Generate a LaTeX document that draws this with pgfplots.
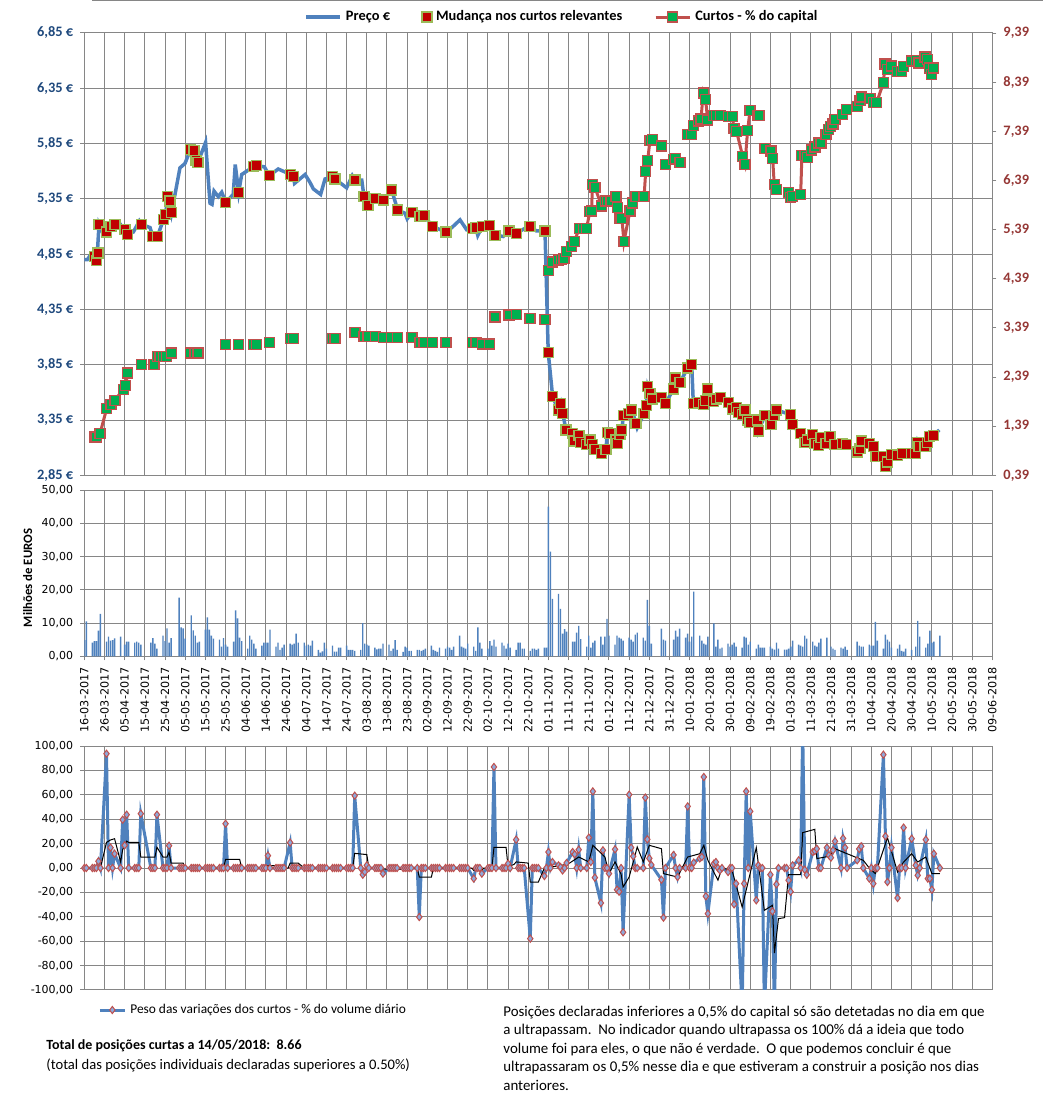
\documentclass[border=0pt]{standalone}
\usepackage{pgfplots}
\pgfplotsset{compat=1.18}
\usepackage{fontspec}
\setmainfont{Carlito}
\newfontfamily\verd{DejaVu Sans}

\definecolor{preco}{HTML}{4F81BD}
\definecolor{leftc}{HTML}{1F497D}
\definecolor{rightc}{HTML}{953735}
\definecolor{redm}{HTML}{C00000}
\definecolor{redb}{HTML}{9BBB59}
\definecolor{greenm}{HTML}{00B050}
\definecolor{curtos}{HTML}{C0504D}
\definecolor{gridc}{HTML}{868686}
\definecolor{diamf}{HTML}{8EA9DB}

\newcommand\toplab{\fontsize{7.2}{8}\selectfont\bfseries}
\newcommand\smalllab{\verd\fontsize{5.5}{6}\selectfont}

\pgfplotsset{
  base/.style={
    scale only axis, anchor=south west, width=454.05pt,
    xmin=0, xmax=450, xtick={0,10,...,450},
    xmajorgrids, ymajorgrids,
    grid style={gridc, line width=0.5pt},
    axis line style={gridc, line width=0.5pt},
    tick align=outside, major tick length=2pt,
    tick style={gridc, line width=0.5pt},
  },
}

\begin{document}
\begin{tikzpicture}
\path[use as bounding box] (0,0) rectangle (521.5pt,550pt);
\draw[gridc, line width=0.5pt] (46pt,549.6pt) -- (521.5pt,549.6pt);

% ---------- top panel: price (left axis) ----------
\begin{axis}[base, at={(42.15pt,312.35pt)}, height=221.15pt,
  ymin=2.85, ymax=6.85,
  ytick={2.85,3.35,3.85,4.35,4.85,5.35,5.85,6.35,6.85},
  yticklabels={{2,85 €},{3,35 €},{3,85 €},{4,35 €},{4,85 €},{5,35 €},{5,85 €},{6,35 €},{6,85 €}},
  yticklabel style={font=\toplab, text=leftc},
  xticklabels={}, xtick style={draw=none}, ytick pos=left]
\addplot[preco, line width=1.75pt] coordinates {
(0,4.80)(1.5,4.80)(3,4.84)(4.5,4.83)(5.5,4.80)(6.5,4.87)(7.3,5.12)(9,5.05)(11.1,5.05)(13.2,5.10)
(15.2,5.12)(17.4,5.13)(20.2,5.07)(21.5,5.03)(24.3,5.05)(27.3,5.15)(28.4,5.12)(32.6,5.09)(33.9,5.01)
(36.2,5.01)(39.2,5.16)(40.3,5.21)(41.3,5.37)(42.5,5.33)(43.3,5.23)(47.4,5.63)(49.9,5.67)(52.7,5.80)
(54.4,5.79)(55.4,5.70)(56.3,5.68)(60.1,5.86)(62.3,5.31)(63.3,5.30)(64.3,5.42)(66.4,5.37)(68.1,5.41)
(70.1,5.32)(73.8,5.39)(74.8,5.66)(76.5,5.41)(78,5.57)(81.3,5.61)(83.8,5.64)(85.4,5.65)(89.2,5.64)
(91.7,5.56)(96.1,5.62)(102.3,5.57)(103.6,5.55)(104.2,5.49)(109.4,5.57)(111.8,5.50)(113.5,5.44)
(117.1,5.39)(119.3,5.53)(123.1,5.55)(124.2,5.53)(130,5.45)(132.8,5.56)(134.1,5.52)(137.5,5.52)
(138.6,5.37)(140.6,5.29)(142.4,5.32)(144.5,5.35)(148.2,5.34)(152.3,5.43)(155.3,5.25)(158.9,5.22)
(160,5.17)(162.4,5.23)(166.4,5.19)(168.3,5.20)(172.6,5.10)(179.2,5.05)(182.1,5.09)(186.2,5.16)
(189.5,5.07)(192.5,5.08)(194.1,5.09)(195,5.02)(197.2,5.10)(200.7,5.11)(203.5,5.02)(207.6,5.01)
(210.5,5.06)(214.3,5.04)(218,5.08)(220.9,5.10)(224,5.06)(228.3,5.06)(229.9,3.96)(232.1,3.56)
(234.9,3.44)(236.1,3.50)(237.1,3.41)(238.7,3.26)(242,3.23)(242.7,3.16)(245.1,3.21)(246,3.15)
(249,3.13)(250.6,3.17)(251.9,3.13)(253.1,3.08)(256.4,3.05)(258.5,3.08)(259.2,3.24)(260.5,3.23)
(263.5,3.17)(264.1,3.14)(265.5,3.22)(266.4,3.26)(267.1,3.39)(269.6,3.41)(271.3,3.44)(273.4,3.32)
(274,3.28)(277.4,3.41)(278.4,3.48)(279.2,3.65)(280.3,3.59)(281.5,3.54)(286.1,3.55)(288.1,3.50)
(291.9,3.63)(293.1,3.73)(295.2,3.69)(299,3.82)(301,3.85)(301.8,3.50)(304.3,3.51)(306.7,3.49)
(307.9,3.53)(308.9,3.63)(310.1,3.58)(311.7,3.52)(313.4,3.54)(315.4,3.55)(317,3.56)(319.1,3.51)
(321.3,3.45)(323.3,3.46)(324.1,3.42)(326.3,3.40)(327.4,3.44)(328.7,3.35)(329.9,3.33)(333.5,3.35)
(334,3.25)(337.3,3.39)(340.3,3.31)(341.8,3.39)(343.1,3.44)(348.1,3.41)(350,3.40)(351,3.31)
(353,3.26)(355,3.23)(357.1,3.15)(358.3,3.17)(360.9,3.22)(362.1,3.14)(363.7,3.12)(365.1,3.19)
(367.5,3.14)(369.5,3.20)(372,3.13)(375.8,3.14)(377.8,3.13)(381.1,3.08)(383.2,3.06)(384.4,3.09)
(385.3,3.16)(389.3,3.14)(391,3.11)(392.3,3.02)(396,3.02)(397.1,2.93)(398.1,2.97)(400.1,3.04)
(402.9,3.03)(405.5,3.05)(410,3.05)(411.7,3.05)(412.8,3.15)(413.6,3.11)(416.6,3.11)(417.7,3.15)
(418.7,3.20)(420.7,3.21)(423.7,3.26)
};
\addplot[only marks, mark=square*, mark size=2.5pt, mark options={fill=redm, draw=redb, line width=0.6pt}] coordinates {
(5,4.83)(6,4.79)(6.8,4.86)(7.3,5.12)(11.1,5.05)(13.2,5.10)(15.2,5.12)(20.2,5.07)(21.5,5.03)(28.4,5.12)
(33.9,5.01)(36.2,5.01)(39.2,5.16)(40.3,5.21)(41.3,5.37)(42.5,5.33)(43.3,5.23)(52.7,5.80)(54.4,5.79)
(55.4,5.70)(56.3,5.68)(70.1,5.32)(76.5,5.41)(83.8,5.64)(85.4,5.65)(91.7,5.56)(102.3,5.57)(103.6,5.55)
(123.1,5.55)(124.2,5.53)(134.1,5.52)(138.6,5.37)(140.6,5.29)(144.5,5.35)(148.2,5.34)(152.3,5.43)
(155.3,5.25)(162.4,5.23)(166.4,5.19)(168.3,5.20)(172.6,5.10)(179.2,5.05)(192.5,5.08)(194.1,5.09)
(197.2,5.10)(200.7,5.11)(203.5,5.02)(210.5,5.06)(214.3,5.04)(220.9,5.10)(228.3,5.06)(229.9,3.96)
(232.1,3.56)(234.9,3.44)(236.1,3.50)(237.1,3.41)(238.7,3.26)(242,3.23)(242.7,3.16)(245.1,3.21)
(246,3.15)(249,3.13)(250.6,3.17)(251.9,3.13)(253.1,3.08)(256.4,3.05)(258.5,3.08)(259.2,3.24)
(260.5,3.23)(263.5,3.17)(264.1,3.14)(265.5,3.22)(266.4,3.26)(267.1,3.39)(269.6,3.41)(271.3,3.44)
(273.4,3.32)(277.4,3.41)(278.4,3.48)(279.2,3.65)(280.3,3.59)(281.5,3.54)(286.1,3.55)(288.1,3.50)
(291.9,3.63)(293.1,3.73)(295.2,3.69)(299,3.82)(301,3.85)(301.8,3.50)(304.3,3.51)(306.7,3.49)
(307.9,3.53)(308.9,3.63)(311.7,3.52)(313.4,3.54)(315.4,3.55)(319.1,3.51)(321.3,3.45)(323.3,3.46)
(324.1,3.42)(326.3,3.40)(327.4,3.44)(328.7,3.35)(329.9,3.33)(333.5,3.35)(334,3.25)(337.3,3.39)
(340.3,3.31)(341.8,3.39)(343.1,3.44)(350,3.40)(351,3.31)(355,3.23)(357.1,3.15)(358.3,3.17)
(360.9,3.22)(362.1,3.14)(363.7,3.12)(365.1,3.19)(367.5,3.14)(369.5,3.20)(372,3.13)(375.8,3.14)
(377.8,3.13)(383.2,3.06)(384.4,3.09)(385.3,3.16)(389.3,3.14)(391,3.11)(392.3,3.02)(396,3.02)
(397.1,2.93)(398.1,2.97)(400.1,3.04)(402.9,3.03)(405.5,3.05)(410,3.05)(411.7,3.05)(412.8,3.15)
(413.6,3.11)(416.6,3.11)(417.7,3.15)(418.7,3.20)(420.7,3.21)
};
\end{axis}

% ---------- top panel: short positions (right axis) ----------
\begin{axis}[base, at={(42.15pt,312.35pt)}, height=221.15pt,
  axis y line*=right, axis x line=none, xmajorgrids=false, ymajorgrids=false,
  ymin=0.39, ymax=9.39,
  ytick={0.39,1.39,2.39,3.39,4.39,5.39,6.39,7.39,8.39,9.39},
  yticklabels={{0,39},{1,39},{2,39},{3,39},{4,39},{5,39},{6,39},{7,39},{8,39},{9,39}},
  yticklabel style={font=\toplab, text=rightc},
  unbounded coords=jump,
  legend columns=3,
  legend style={at={(0.527,1.036)}, anchor=center, draw=none, fill=none, font=\toplab,
    /tikz/every even column/.append style={column sep=14pt}}]
\addlegendimage{preco, line width=1.75pt}
\addlegendentry{Preço €}
\addlegendimage{only marks, mark=square*, mark size=2.5pt, mark options={fill=redm, draw=redb, line width=0.6pt}}
\addlegendentry{Mudança nos curtos relevantes}
\addplot[curtos, line width=1.5pt, mark=square*, mark size=2.5pt, mark options={fill=greenm, draw=curtos, line width=0.6pt}] coordinates {
(5.3,1.17)(6.1,1.17)(7.8,1.24)(11.1,1.75)(13.2,1.83)(15.2,1.92)(19.3,2.14)(20.5,2.22)(21.5,2.47)
(25,nan)(28.4,2.65)(31,nan)(34.5,2.65)(35.5,nan)
(36.2,2.80)(37.5,2.80)(39.2,2.80)(40.8,2.80)(43.3,2.88)(48,nan)
(52.7,2.88)(54.9,2.88)(56.3,2.88)(60,nan)
(70.1,3.05)(72,nan)(76.5,3.05)(80,nan)(83.8,3.05)(85.4,3.05)(88,nan)(91.7,3.09)(95,nan)
(102.3,3.18)(103.6,3.18)(110,nan)(123.1,3.18)(124.2,3.18)(130,nan)(134.1,3.29)(136,nan)
(138.6,3.22)(140.6,3.22)(142,nan)(144.5,3.22)(146,nan)(148.2,3.20)(150,nan)(152.3,3.20)(154,nan)
(155.3,3.20)(158,nan)(162.4,3.20)(164,nan)(166.4,3.10)(168.3,3.10)(170,nan)(172.6,3.10)(175,nan)
(179.2,3.10)(185,nan)(192.5,3.09)(194.1,3.09)(196,nan)(197.2,3.06)(200.7,3.06)(202,nan)
(203.5,3.61)(207,nan)(210.5,3.65)(212,nan)(214.3,3.67)(217,nan)(220.9,3.58)(225,nan)(228.3,3.56)(229.2,nan)
(229.9,4.56)(231.9,4.73)(234.9,4.77)(236.6,4.78)(237.7,4.80)(239,4.94)(241.5,5.04)(242.8,5.14)
(245.3,5.42)(247.3,5.42)(248.9,5.42)(250.5,5.75)(251.4,5.77)(251.8,6.31)(253.1,6.24)(256.4,5.87)
(258.1,5.97)(259.4,5.97)(261,5.97)(263.5,6.06)(264.3,5.84)(265.5,5.62)(266.4,5.62)(267.4,5.14)
(270.4,5.77)(271.6,5.93)(273.4,6.06)(277.4,6.06)(278.2,6.57)(279.2,6.80)(280.3,7.21)(281.5,7.23)
(286.1,7.09)(287,nan)(288.1,6.72)(290,nan)(291.9,6.82)(293.1,6.84)(295.2,6.75)(297,nan)
(299,7.33)(301,7.33)(301.8,7.50)(304.3,7.60)(305.6,7.64)(306.7,8.17)(307.9,8.03)(308.9,7.62)
(311.7,7.71)(313.4,7.71)(315.4,7.71)(319.1,7.69)(321.1,7.69)(322,7.45)(323.3,7.38)(326.3,6.87)
(327.4,6.72)(328.7,7.41)(329.9,7.81)(333.5,7.71)(334.3,7.71)(336,nan)
(337.3,7.04)(340.3,6.99)(341.1,6.84)(341.9,6.31)(343.1,6.21)(346,nan)
(348.9,6.15)(350,6.05)(351,6.07)(355,6.10)(355.6,6.90)(357.1,6.90)(358.3,6.86)(360.4,7.01)
(362.1,7.07)(363.7,7.15)(365.1,7.15)(367.5,7.33)(368.7,7.42)(369.9,7.49)(371,7.54)(372,7.63)
(375.8,7.74)(377.8,7.84)(383,7.90)(384.4,8.01)(385.3,8.09)(389.3,8.05)(391,7.98)(392.6,7.97)
(396,8.38)(396.8,8.76)(398.2,8.64)(400.1,8.72)(402.9,8.61)(405,8.61)(405.9,8.71)(410,8.82)
(412.5,8.83)(413.6,8.78)(416.6,8.90)(417.7,8.85)(418.7,8.68)(419.9,8.55)(420.7,8.68)
};
\addlegendentry{Curtos - \% do capital}
\end{axis}

% ---------- middle panel: volume ----------
\begin{axis}[base, at={(42.15pt,221.85pt)}, height=83pt,
  ymin=0, ymax=50, ytick={0,10,20,30,40,50},
  yticklabels={{0,00},{10,00},{20,00},{30,00},{40,00},{50,00}},
  yticklabel style={font=\smalllab},
  ytick pos=left, xtick pos=bottom,
  xticklabels={16-03-2017,26-03-2017,05-04-2017,15-04-2017,25-04-2017,05-05-2017,15-05-2017,25-05-2017,
    04-06-2017,14-06-2017,24-06-2017,04-07-2017,14-07-2017,24-07-2017,03-08-2017,13-08-2017,23-08-2017,
    02-09-2017,12-09-2017,22-09-2017,02-10-2017,12-10-2017,22-10-2017,01-11-2017,11-11-2017,21-11-2017,
    01-12-2017,11-12-2017,21-12-2017,31-12-2017,10-01-2018,20-01-2018,30-01-2018,09-02-2018,19-02-2018,
    01-03-2018,11-03-2018,21-03-2018,31-03-2018,10-04-2018,20-04-2018,30-04-2018,10-05-2018,20-05-2018,
    30-05-2018,09-06-2018},
  xticklabel style={rotate=90, anchor=east, font=\verd\fontsize{5.6}{6}\selectfont}]
\addplot[ybar, bar width=0.7pt, fill=preco, draw=none] coordinates {
(0,4.9)(1,10.5)(4,4.1)(5,4.6)(6,4.6)(7,7.7)(8,12.8)(11,4.4)(12,5.9)(13,4.7)(14,4.9)(15,5.4)(18,5.9)
(20,3.5)(21,4.4)(22,4.4)(25,4.1)(26,4.4)(27,4.1)(28,3.5)(33,4.1)(34,5.5)(35,3.8)(36,2.3)(39,6.2)
(40,4.6)(41,8.4)(42,4.1)(43,5.5)(47,17.7)(48,8.7)(49,8.4)(50,5.3)(53,12.3)(54,7.8)(55,6.2)(56,4.1)
(57,4.4)(60,8.0)(61,11.7)(62,8.0)(63,6.2)(64,5.3)(67,5.0)(68,2.9)(69,5.5)(70,3.5)(71,2.9)(74,4.4)
(75,13.8)(76,11.4)(77,5.6)(78,4.6)(81,2.3)(82,6.2)(83,5.0)(84,3.8)(85,2.3)(88,3.2)(89,4.1)(90,4.1)
(91,4.1)(92,8.0)(95,2.9)(96,4.1)(97,1.9)(98,2.6)(99,3.5)(102,3.8)(103,3.5)(104,3.8)(105,6.8)(106,4.1)
(109,4.1)(110,3.2)(111,3.5)(112,3.2)(113,4.7)(116,1.9)(117,1.1)(118,1.5)(119,4.1)(120,2.3)(123,3.2)
(124,1.4)(125,1.4)(126,2.6)(127,2.6)(130,3.2)(131,1.9)(132,1.9)(133,1.9)(134,1.6)(137,1.9)(138,10.0)
(139,3.8)(140,3.5)(141,3.2)(144,2.6)(145,2.1)(146,2.3)(147,2.3)(148,3.8)(151,3.5)(152,1.6)(153,2.3)
(154,4.9)(155,1.9)(158,1.3)(159,2.9)(160,2.6)(161,1.6)(162,1.6)(165,1.9)(166,1.9)(167,1.6)(168,1.9)
(169,2.3)(172,3.2)(173,1.9)(174,1.6)(175,1.3)(176,2.6)(179,2.3)(180,2.9)(181,2.6)(182,1.9)(183,2.9)
(186,6.2)(187,2.9)(188,2.6)(189,2.3)(190,3.8)(193,2.9)(194,1.6)(195,8.7)(196,4.1)(197,2.3)(200,2.3)
(201,4.6)(202,3.2)(203,5.0)(204,2.9)(207,4.1)(208,3.2)(209,2.3)(210,3.8)(211,2.6)(214,1.9)(215,4.1)
(216,4.1)(217,2.3)(218,2.3)(221,1.6)(222,2.3)(223,2.3)(224,1.9)(225,2.3)(228,2.6)(229,2.6)(230,45.1)
(231,31.5)(232,17.3)(235,18.8)(236,14.3)(237,6.8)(238,8.2)(239,7.4)(242,4.4)(243,4.4)(244,7.1)
(245,9.2)(246,5.2)(249,2.9)(250,6.2)(251,2.6)(252,4.1)(253,4.7)(256,5.9)(257,3.5)(258,5.9)(259,11.3)
(260,6.2)(263,3.5)(264,6.2)(265,5.6)(266,5.3)(267,4.7)(270,5.6)(271,5.0)(272,4.4)(273,6.5)(274,7.1)
(277,5.6)(278,4.7)(279,17.0)(280,9.2)(281,3.8)(286,8.3)(287,5.0)(288,4.7)(292,5.0)(293,7.7)(294,5.9)
(295,8.3)(298,5.6)(299,6.8)(300,4.4)(301,5.9)(302,19.5)(305,6.2)(306,4.7)(307,3.8)(308,3.5)(309,5.9)
(312,9.9)(313,2.9)(314,5.0)(315,2.3)(316,2.6)(319,3.8)(320,2.9)(321,3.5)(322,4.1)(323,2.9)(326,2.6)
(327,5.9)(328,5.6)(329,3.5)(330,4.4)(333,2.3)(334,3.5)(335,2.6)(336,2.6)(337,2.6)(340,2.9)(341,2.3)
(342,2.0)(343,4.1)(344,2.3)(347,2.0)(348,2.0)(349,2.3)(350,2.9)(351,4.7)(354,3.5)(355,3.2)(356,2.9)
(357,6.2)(358,5.3)(361,4.4)(362,3.2)(363,2.9)(364,4.1)(365,5.3)(368,5.6)(370,2.9)(371,2.3)(372,1.9)
(375,2.6)(376,2.3)(377,2.9)(378,1.9)(383,4.4)(384,3.2)(385,2.9)(386,2.9)(389,3.5)(390,3.2)(391,3.2)
(392,10.4)(393,4.7)(396,2.3)(397,6.5)(398,5.0)(399,4.4)(400,2.6)(403,2.3)(404,3.5)(405,1.6)(406,1.4)
(407,2.3)(410,1.9)(412,2.9)(413,10.7)(414,5.9)(417,2.6)(418,3.8)(419,7.7)(420,4.1)(421,4.4)(424,6.2)
};
\end{axis}

% ---------- bottom panel: weight of short changes ----------
\begin{axis}[base, at={(42.15pt,55pt)}, height=122pt,
  ymin=-100, ymax=100, ytick={-100,-80,-60,-40,-20,0,20,40,60,80,100},
  yticklabels={{-100,00},{-80,00},{-60,00},{-40,00},{-20,00},{0,00},{20,00},{40,00},{60,00},{80,00},{100,00}},
  yticklabel style={font=\smalllab},
  ytick pos=left, xticklabels={}, xtick style={draw=none},
  legend style={at={(0.187,-0.082)}, anchor=center, draw=none, fill=none,
    font=\fontsize{6.7}{7}\selectfont},
  legend image code/.code={\draw[mark repeat=2,mark phase=2] plot coordinates {(0cm,0cm) (0.22cm,0cm) (0.44cm,0cm)};}]
\addplot[preco, line width=1.5pt, mark=diamond*, mark size=1.8pt, mark options={fill=diamf, draw=curtos, line width=0.5pt}] coordinates {
(0,0)(1,0)(4,0)(5,0)(6,0)(7,5.5)(8,0)(11,93.7)(12,0)(13,16.7)(14,0)(15,11.7)(18,0)(19,39.6)(20,18.6)
(21,43.7)(22,0)(25,0)(26,0)(27,0)(28,44.5)(33,0)(34,0)(35,0)(36,43.7)(39,0)(40,0)(41,0)(42,18.3)(43,0)
(47,0)(48,0)(49,0)(50,0)(53,0)(54,0)(55,0)(56,0)(57,0)(60,0)(61,0)(62,0)(63,0)(64,0)(67,0)(68,0)
(69,0)(70,36.3)(71,0)(74,0)(75,0)(76,0)(77,0)(78,0)(81,0)(82,0)(83,0)(84,0)(85,0)(88,0)(89,0)(90,0)
(91,10.1)(92,0)(95,0)(96,0)(97,0)(98,0)(99,0)(102,20.8)(103,0)(104,0)(105,0)(106,0)(109,0)(110,0)
(111,0)(112,0)(113,0)(116,0)(117,0)(118,0)(119,0)(120,0)(123,0)(124,0)(125,0)(126,0)(127,0)(130,0)
(131,0)(132,0)(133,0)(134,59.3)(137,0)(138,-5.5)(139,-3.3)(140,2.2)(141,0)(144,0)(145,0)(146,0)
(147,0)(148,-4.6)(151,0)(152,0)(153,0)(154,0)(155,0)(158,0)(159,0)(160,0)(161,0)(162,0)(165,0)
(166,-40.2)(167,0)(168,0)(169,0)(172,0)(173,0)(174,0)(175,0)(176,0)(179,0)(180,0)(181,0)(182,0)
(183,0)(186,0)(187,0)(188,0)(189,0)(190,0)(193,-8.7)(194,0)(195,0)(196,0)(197,-4.6)(200,0)(201,0)
(202,0)(203,82.8)(204,0)(207,0)(208,0)(209,0)(210,3.6)(211,0)(214,23.2)(215,0)(216,0)(217,0)(218,0)
(221,-57.9)(222,0)(223,0)(224,0)(225,0)(228,-6.6)(229,0)(230,13.1)(231,0)(232,4.9)(235,2.2)(236,0.8)
(237,-2)(238,0)(239,4.1)(242,13.1)(243,11.2)(244,0)(245,15)(246,0)(249,0)(250,24.9)(251,4.9)
(252,62.8)(253,-7.9)(256,-28.7)(257,14.5)(258,0)(259,0)(260,-4.6)(263,15.3)(264,-17.8)(265,-19.4)
(266,0)(267,-52.7)(270,60.1)(271,16.7)(272,9.6)(273,0)(274,0)(277,0)(278,57.7)(279,23.5)(280,7.9)
(281,2.5)(286,-9.6)(287,-40.7)(288,0)(292,10.7)(293,0)(294,-7.4)(295,0)(298,0)(299,50.5)(300,0)
(301,0)(302,4.4)(305,7.9)(306,9)(307,74.6)(308,-23.2)(309,-37.4)(312,3.6)(313,4.9)(314,0)(315,-2)
(316,0)(319,-3.3)(320,0)(321,0)(322,-29.8)(323,-12.8)(326,-115)(327,-12.8)(328,62.8)(329,0)(330,46.4)
(333,-26.5)(334,2.2)(335,0)(336,0)(337,-115)(340,-5.5)(341,-35.5)(342,-120)(343,-13.4)(344,0)(347,0)
(348,0)(349,-10.1)(350,-19.4)(351,2.2)(354,6.3)(355,0)(356,115)(357,-1.4)(358,-5.5)(361,13.1)
(362,13.9)(363,15.8)(364,0)(365,0)(368,16.7)(369,10.4)(370,8.5)(371,14.5)(372,21.9)(375,0)(376,24.3)
(377,16.7)(378,0)(383,6.3)(384,15.6)(385,17.8)(386,0)(389,-8.7)(390,0)(391,-12.8)(392,0)(393,0)
(396,92.9)(397,26)(398,-11.5)(399,0)(400,16.7)(403,-24.6)(404,0)(405,0)(406,33.1)(407,0)(410,24)
(412,2.2)(413,-6)(414,0)(417,23.2)(418,-8.7)(419,-8.7)(420,-17.8)(421,11.7)(424,0)
};
\addlegendentry{Peso das variações dos curtos - \% do volume diário}
\addplot[black, line width=0.5pt, forget plot] coordinates {
(0,0)(8,0)(11,21)(13,23)(15,24)(18,5)(19,15)(21,22)(22,21)(27,21)(28,9)(35,9)(36,17)(39,9)(41,9)
(42,13)(43,4)(49,4)(50,0)(69,0)(70,7)(77,7)(78,0)(90,0)(91,2)(99,2)(100,0)(101,0)(102,4)(106,4)
(109,0)(133,0)(134,12)(140,11)(141,0)(147,0)(148,-1)(160,-1)(161,0)(165,0)(166,-7.5)(172,-7.5)
(173,0)(192,0)(193,-2)(197,-2)(198,0)(202,0)(203,17)(209,17)(210,1)(213,3)(214,5)(220,4)(221,-11.5)
(225,-11.5)(228,0)(232,1)(236,2)(240,3.5)(245,9)(250,5)(252,18.6)(258,9)(260,-4.6)(263,5)(266,-5)
(267,-15.6)(270,-7.4)(274,17.2)(277,5)(280,18.6)(286,15.8)(287,-4.6)(294,-7.4)(299,9)(305,11.7)
(307,18.6)(309,6.3)(314,-10)(316,0)(321,-2)(326,-32)(333,16.7)(337,-34.7)(341,-30.6)(342,-69.7)
(344,-41.5)(347,-40.7)(349,-5.5)(355,-5.5)(356,29)(362,31.7)(363,7.7)(369,9.6)(372,15.8)(378,11.7)
(386,6.3)(389,0)(392,-4.6)(393,0)(398,24.9)(403,-3.3)(406,4.9)(410,11.7)(413,4.9)(417,9)(420,-4.6)
(424,-4.6)
};
\end{axis}

\node[rotate=90, font=\fontsize{6.4}{7}\selectfont\bfseries] at (13.9pt,261pt) {Milhões de EUROS};
\node[anchor=west, inner sep=0pt, font=\fontsize{7}{8}\selectfont\bfseries] at (23pt,27pt) {Total de posições curtas a 14/05/2018:~~8.66};
\node[anchor=west, inner sep=0pt, font=\fontsize{7.3}{8}\selectfont] at (23pt,17.5pt) {(total das posições individuais declaradas superiores a 0.50\%)};
\node[anchor=north west, align=left, inner sep=0pt, font=\fontsize{7.45}{9.25}\selectfont] at (251.5pt,47.3pt) {Posições declaradas inferiores a 0,5\% do capital só são detetadas no dia em que\\a ultrapassam.~~No indicador quando ultrapassa os 100\% dá a ideia que todo\\volume foi para eles, o que não é verdade.~~O que podemos concluir é que\\ultrapassaram os 0,5\% nesse dia e que estiveram a construir a posição nos dias\\anteriores.};
\end{tikzpicture}
\end{document}
